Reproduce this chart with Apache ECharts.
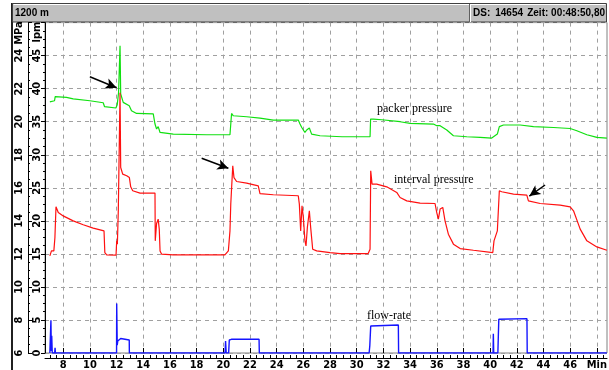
<!DOCTYPE html>
<html>
<head>
<meta charset="utf-8">
<script src="https://cdn.jsdelivr.net/npm/echarts@6/dist/echarts.min.js"></script>
<style>
  html, body { margin: 0; padding: 0; background: #fff; }
  #chart { width: 609px; height: 370px; }
</style>
</head>
<body>
<div id="chart"></div>
<script>
// time in minutes, pressure in MPa
const packerPressure = [
  [7.0, 21.2], [7.35, 21.27], [7.4, 21.52], [8.25, 21.47], [8.75, 21.38], [10.0, 21.27],
  [11.0, 21.15], [11.1, 20.91], [11.95, 20.83], [12.05, 21.03], [12.15, 21.76], [12.26, 24.6],
  [12.31, 21.68], [12.5, 21.17], [12.95, 20.97], [13.12, 20.67], [13.5, 20.5], [14.75, 20.47],
  [14.88, 19.86], [15.0, 19.56], [15.12, 19.7], [15.26, 19.35], [16.25, 19.25], [18.75, 19.21],
  [20.5, 19.21], [20.62, 20.5], [20.75, 20.36], [21.75, 20.3], [22.75, 20.22], [23.75, 20.1],
  [25.62, 20.1], [25.75, 19.86], [25.88, 19.65], [26.0, 19.76], [26.12, 19.35], [26.25, 19.5],
  [26.45, 19.62], [26.62, 19.25], [26.75, 19.25], [27.25, 19.15], [28.9, 19.09], [31.0, 19.09],
  [31.04, 20.16], [31.25, 20.16], [31.88, 20.12], [33.25, 20.0], [34.0, 19.9], [35.75, 19.86],
  [36.0, 19.76], [36.12, 19.65], [36.25, 19.76], [36.75, 19.5], [37.25, 19.15], [38.25, 19.09],
  [39.25, 19.05], [40.12, 19.01], [40.54, 19.25], [40.69, 19.7], [41.0, 19.8], [42.25, 19.8],
  [43.25, 19.7], [44.75, 19.65], [46.0, 19.59], [46.5, 19.45], [47.25, 19.21], [48.0, 19.05],
  [48.75, 19.01]
];

const intervalPressure = [
  [7.0, 11.88], [7.12, 12.18], [7.3, 12.18], [7.38, 12.99], [7.46, 14.85], [7.63, 14.5],
  [8.0, 14.3], [8.75, 14.0], [9.5, 13.76], [10.25, 13.56], [11.06, 13.39], [11.12, 12.08],
  [11.26, 11.94], [11.96, 11.92], [12.01, 12.79], [12.06, 12.59], [12.13, 14.61], [12.26, 21.76],
  [12.31, 17.23], [12.46, 16.83], [12.76, 16.73], [12.96, 16.62], [13.06, 16.06], [13.21, 15.82],
  [13.76, 15.68], [14.88, 15.68], [14.9, 12.79], [15.0, 13.84], [15.12, 14.1], [15.2, 13.5],
  [15.26, 12.18], [15.38, 11.98], [16.25, 11.94], [20.12, 11.94], [20.38, 12.18], [20.5, 13.39],
  [20.56, 15.01], [20.71, 17.33], [20.8, 16.62], [21.0, 16.38], [21.75, 16.28], [22.62, 16.12],
  [22.75, 15.65], [23.75, 15.58], [25.62, 15.52], [25.7, 15.01], [25.8, 13.39], [25.9, 14.91],
  [26.0, 14.2], [26.12, 12.79], [26.2, 12.48], [26.3, 13.59], [26.45, 14.61], [26.55, 13.59],
  [26.7, 12.28], [27.0, 12.18], [28.0, 12.08], [28.75, 12.02], [30.86, 12.02], [31.0, 12.28],
  [31.05, 17.03], [31.15, 16.22], [31.5, 16.22], [32.25, 16.06], [33.0, 15.72], [33.25, 15.41],
  [33.75, 15.21], [34.75, 15.07], [35.87, 15.05], [36.0, 14.5], [36.12, 14.1], [36.25, 14.71],
  [36.45, 14.81], [36.62, 14.0], [36.87, 13.19], [37.25, 12.59], [37.75, 12.32], [38.75, 12.22],
  [40.2, 12.08], [40.29, 12.79], [40.54, 13.39], [40.69, 15.82], [40.87, 15.76], [41.75, 15.62],
  [42.75, 15.56], [42.87, 15.21], [43.75, 15.05], [45.25, 14.95], [46.0, 14.85], [46.25, 14.61],
  [46.75, 13.5], [47.25, 12.79], [48.0, 12.42], [48.75, 12.22]
];

// time in minutes, flow in l/min
const flowRate = [
  [7.0, 0], [7.05, 0], [7.08, 4.95], [7.11, 0.3], [7.14, 2.6], [7.18, 0], [7.36, 0], [7.39, 0.8],
  [7.42, 0], [12.0, 0], [12.01, 7.5], [12.05, 1.2], [12.09, 1.82], [12.2, 2.07], [12.31, 2.2],
  [12.35, 1.97], [12.95, 1.97], [12.96, 0], [20.13, 0], [20.17, 1.82], [20.22, 0], [20.4, 0],
  [20.45, 1.97], [20.6, 2.07], [22.68, 2.07], [22.7, 0], [30.93, 0], [30.98, 1.06], [31.05, 4.09],
  [31.15, 4.24], [33.12, 4.24], [33.14, 0], [40.22, 0], [40.24, 2.92], [40.27, 0], [40.58, 0],
  [40.65, 5.1], [40.75, 5.2], [42.76, 5.2], [42.78, 0], [48.75, 0]
];

const minuteLabels = [8, 10, 12, 14, 16, 18, 20, 22, 24, 26, 28, 30, 32, 34, 36, 38, 40, 42, 44, 46, 48];
const halfMinuteTicks = [];
for (let m = 7; m <= 48.5; m += 0.5) halfMinuteTicks.push(m);

// arrows: [from, to] in (min, MPa)
const arrows = [
  [[10.0, 22.72], [12.0, 22.06]],
  [[18.38, 17.79], [20.38, 17.18]],
  [[44.12, 16.17], [42.94, 15.5]]
];

const AXIS_FONT = '"Liberation Sans Narrow", "DejaVu Sans Condensed", "Liberation Sans", sans-serif';
const BAR_FONT_FAMILY = '"Liberation Sans", Arial, sans-serif';
const NOTE_FONT = '"Liberation Serif", "DejaVu Serif", serif';
const X_MIN = 6.636;
const X_MAX = 48.76;

const axisLabelStyle = { color: '#000', fontWeight: 'bold', fontSize: 11, fontFamily: AXIS_FONT };
const dashed = { color: '#a0a0a0', width: 1, type: [4, 4] };
const barFont = 'bold 10px ' + BAR_FONT_FAMILY;

const chart = echarts.init(document.getElementById('chart'), null, { renderer: 'canvas' });

chart.setOption({
  animation: false,
  backgroundColor: '#fff',
  grid: { left: 45, right: 2, top: 22.6, bottom: 17, show: true, borderColor: '#808080', borderWidth: 1, outerBoundsMode: 'none' },
  xAxis: [
    {
      type: 'value', min: X_MIN, max: X_MAX, position: 'bottom', offset: 5,
      axisLine: { show: true, onZero: false, lineStyle: { color: '#000', width: 1 } },
      axisTick: { show: true, inside: true, length: 3, customValues: halfMinuteTicks, lineStyle: { color: '#000' } },
      axisLabel: {
        ...axisLabelStyle, margin: 2, customValues: minuteLabels,
        formatter: v => (v === 48 ? 'Min' : String(v))
      },
      splitLine: { show: false }
    },
    {
      type: 'value', min: X_MIN, max: X_MAX, position: 'bottom', offset: 5,
      axisLine: { show: false },
      axisTick: { show: true, inside: true, length: 5, customValues: minuteLabels, lineStyle: { color: '#000' } },
      axisLabel: { show: false },
      splitLine: { show: true, lineStyle: dashed }
    }
  ],
  yAxis: [
    {
      type: 'value', position: 'left', offset: 17, min: 6, max: 26, interval: 2,
      axisLine: { show: true, lineStyle: { color: '#000', width: 1 } },
      axisTick: { show: true, inside: true, length: 4, lineStyle: { color: '#000' } },
      minorTick: { show: true, splitNumber: 4, length: 2, lineStyle: { color: '#000' } },
      axisLabel: { ...axisLabelStyle, rotate: 90, margin: 3, formatter: v => (v === 26 ? '' : String(v)) },
      splitLine: { show: true, lineStyle: dashed }
    },
    {
      type: 'value', position: 'left', offset: 0, min: 0, max: 50, interval: 5,
      axisLine: { show: true, lineStyle: { color: '#000', width: 1 } },
      axisTick: { show: true, inside: false, length: 4, lineStyle: { color: '#000' } },
      minorTick: { show: true, splitNumber: 4, length: 2, lineStyle: { color: '#000' } },
      axisLabel: { ...axisLabelStyle, rotate: 90, margin: 2, formatter: v => (v === 50 ? '' : String(v)) },
      splitLine: { show: false }
    }
  ],
  series: [
    {
      name: 'packer pressure', type: 'line', xAxisIndex: 0, yAxisIndex: 0,
      data: packerPressure, showSymbol: false, symbol: 'none',
      lineStyle: { color: '#10e010', width: 1.2 },
      markLine: {
        silent: true, symbol: ['none', 'arrow'], symbolSize: [8, 11],
        label: { show: false },
        lineStyle: { color: '#000', width: 1.5, type: 'solid' },
        itemStyle: { color: '#000' },
        data: arrows.map(([a, b]) => [{ coord: a }, { coord: b }])
      }
    },
    {
      name: 'interval pressure', type: 'line', xAxisIndex: 0, yAxisIndex: 0,
      data: intervalPressure, showSymbol: false, symbol: 'none',
      lineStyle: { color: '#ff1010', width: 1.2 }
    },
    {
      name: 'flow-rate', type: 'line', xAxisIndex: 0, yAxisIndex: 1,
      data: flowRate, showSymbol: false, symbol: 'none',
      lineStyle: { color: '#1515ff', width: 1.4 }
    }
  ],
  graphic: [
    // window border and title bar
    { type: 'rect', shape: { x: 11, y: 3, width: 2, height: 367 }, style: { fill: '#202020' } },
    { type: 'rect', shape: { x: 12.5, y: 3.5, width: 594, height: 18.5 }, style: { fill: '#c0c0c0', stroke: '#404040', lineWidth: 1 } },
    { type: 'line', shape: { x1: 13.5, y1: 4.5, x2: 605.5, y2: 4.5 }, style: { stroke: '#ffffff', lineWidth: 1 } },
    { type: 'line', shape: { x1: 469.5, y1: 4, x2: 469.5, y2: 22 }, style: { stroke: '#606060', lineWidth: 1 } },
    { type: 'line', shape: { x1: 470.5, y1: 4, x2: 470.5, y2: 22 }, style: { stroke: '#ffffff', lineWidth: 1 } },
    { type: 'text', x: 15, y: 13, style: { text: '1200 m', font: barFont, fill: '#000', verticalAlign: 'middle' } },
    { type: 'text', x: 473, y: 13, style: { text: 'DS:', font: barFont, fill: '#000', verticalAlign: 'middle' } },
    { type: 'text', x: 523, y: 13, style: { text: '14654', font: barFont, fill: '#000', align: 'right', verticalAlign: 'middle' } },
    { type: 'text', x: 605, y: 13, style: { text: 'Zeit: 00:48:50,80', font: barFont, fill: '#000', align: 'right', verticalAlign: 'middle' } },
    // axis units
    { type: 'text', x: 19.5, y: 33, rotation: Math.PI / 2, style: { text: 'MPa', font: 'bold 11px ' + AXIS_FONT, fill: '#000', align: 'center', verticalAlign: 'middle' } },
    { type: 'text', x: 37, y: 32, rotation: Math.PI / 2, style: { text: 'lpm', font: 'bold 11px ' + AXIS_FONT, fill: '#000', align: 'center', verticalAlign: 'middle' } },
    // curve notes
    { type: 'text', x: 377, y: 109, style: { text: 'packer pressure', font: '12px ' + NOTE_FONT, fill: '#000', verticalAlign: 'middle' } },
    { type: 'text', x: 394, y: 179.5, style: { text: 'interval pressure', font: '12px ' + NOTE_FONT, fill: '#000', verticalAlign: 'middle' } },
    { type: 'text', x: 367, y: 315.5, style: { text: 'flow-rate', font: '12px ' + NOTE_FONT, fill: '#000', verticalAlign: 'middle' } }
  ]
});
</script>
</body>
</html>
